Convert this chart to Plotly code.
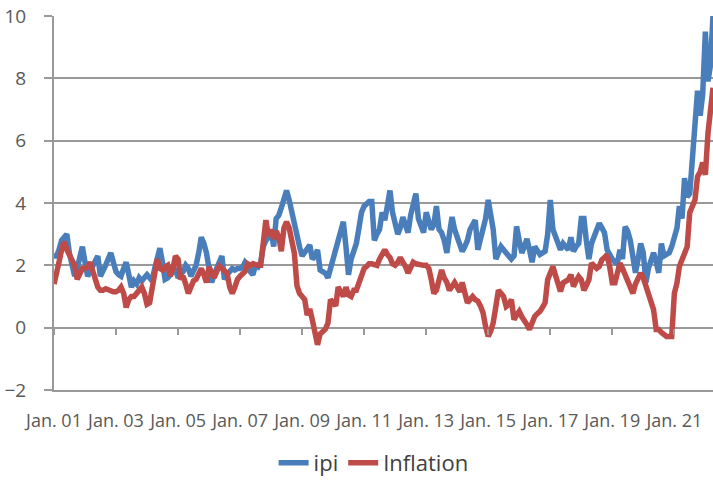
import pandas as pd
import plotly.graph_objects as go

# ---- data (monthly, Jan 2001 - Apr 2022) ----
ipi_2001 = [2.3, 2.3, 2.5, 2.8, 2.9, 3.0, 2.4, 2.0, 1.65, 1.9, 2.3, 2.6]
ipi_2002 = [2.1, 1.65, 1.8, 2.0, 2.2, 2.3, 1.65, 1.8, 2.0, 2.2, 2.4, 2.1]
ipi_2003 = [1.8, 1.7, 1.65, 1.9, 2.1, 1.7, 1.3, 1.5, 1.4, 1.6, 1.5, 1.6]
ipi_2004 = [1.7, 1.6, 1.5, 1.9, 2.3, 2.55, 2.1, 1.55, 1.6, 1.7, 1.75, 1.9]
ipi_2005 = [1.6, 1.7, 1.8, 2.0, 1.9, 1.65, 1.8, 2.0, 2.4, 2.9, 2.7, 2.4]
ipi_2006 = [1.9, 1.45, 1.7, 1.95, 2.1, 2.3, 1.55, 1.7, 1.8, 1.9, 1.85, 1.9]
ipi_2007 = [1.9, 1.95, 2.1, 2.0, 1.8, 1.7, 2.0, 1.95, 2.1, 2.6, 2.8, 2.9]
ipi_2008 = [3.1, 2.6, 3.5, 3.6, 3.85, 4.1, 4.4, 4.1, 3.7, 3.2, 2.9, 2.6]
ipi_2009 = [2.3, 2.4, 2.5, 2.65, 2.2, 2.3, 2.5, 1.85, 1.8, 1.75, 1.6, 1.9]
ipi_2010 = [2.2, 2.4, 2.7, 3.0, 3.4, 2.6, 1.7, 2.2, 2.5, 2.7, 3.2, 3.7]
ipi_2011 = [3.9, 4.0, 4.05, 4.05, 2.8, 3.0, 3.15, 3.7, 3.45, 3.9, 4.4, 3.7]
ipi_2012 = [3.3, 3.0, 3.2, 3.55, 3.3, 3.05, 3.6, 3.9, 4.3, 3.5, 3.2, 3.05]
ipi_2013 = [3.7, 3.4, 3.15, 3.3, 3.9, 3.15, 3.05, 2.8, 2.4, 3.0, 3.55, 3.15]
ipi_2014 = [2.9, 2.7, 2.45, 2.6, 2.8, 3.15, 3.3, 3.45, 2.5, 2.8, 3.15, 3.5]
ipi_2015 = [4.1, 3.6, 3.15, 2.2, 2.4, 2.6, 2.5, 2.4, 2.3, 2.2, 2.3, 3.25]
ipi_2016 = [2.8, 2.4, 2.6, 2.85, 2.5, 2.1, 2.6, 2.5, 2.35, 2.4, 2.45, 3.0]
ipi_2017 = [4.1, 3.15, 2.9, 2.7, 2.5, 2.7, 2.6, 2.5, 2.9, 2.45, 2.6, 2.7]
ipi_2018 = [3.5, 3.5, 2.8, 2.2, 2.7, 2.9, 3.05, 3.35, 3.2, 3.05, 2.5, 2.3]
ipi_2019 = [2.2, 2.1, 2.05, 2.5, 2.2, 3.24, 3.1, 2.8, 2.3, 1.76, 2.2, 2.7]
ipi_2020 = [2.4, 1.45, 1.9, 2.2, 2.4, 2.1, 1.76, 2.7, 2.3, 2.35, 2.4, 2.6]
ipi_2021 = [2.9, 3.2, 3.9, 3.5, 4.8, 4.2, 4.3, 5.5, 7.0, 7.6, 6.8, 7.5]
ipi_2022 = [9.5, 7.9, 8.4, 10.0]

infl_2001 = [1.4, 1.9, 2.1, 2.5, 2.75, 2.5, 2.3, 2.15, 2.0, 1.55, 1.7, 1.9]
infl_2002 = [1.9, 1.95, 2.1, 1.8, 1.5, 1.3, 1.2, 1.2, 1.25, 1.2, 1.2, 1.15]
infl_2003 = [1.15, 1.2, 1.3, 1.1, 0.65, 0.9, 1.0, 1.0, 1.1, 1.2, 1.3, 1.1]
infl_2004 = [0.75, 0.8, 1.2, 1.8, 2.2, 1.9, 1.85, 1.95, 2.0, 1.65, 1.9, 2.3]
infl_2005 = [2.2, 1.55, 1.65, 1.4, 1.1, 1.3, 1.5, 1.55, 1.75, 1.9, 1.7, 1.45]
infl_2006 = [1.95, 1.8, 1.6, 1.8, 1.97, 1.9, 1.85, 1.75, 1.3, 1.1, 1.3, 1.55]
infl_2007 = [1.65, 1.75, 1.8, 2.05, 2.0, 2.05, 2.0, 2.0, 2.0, 2.6, 3.45, 2.95]
infl_2008 = [3.15, 2.85, 3.1, 2.9, 2.45, 3.2, 3.4, 3.2, 2.8, 2.4, 1.35, 1.1]
infl_2009 = [1.0, 0.9, 0.4, 0.6, 0.25, -0.28, -0.55, -0.2, -0.15, -0.05, 0.15, 0.9]
infl_2010 = [0.8, 0.7, 1.3, 1.1, 1.0, 1.3, 1.05, 1.0, 1.2, 1.2, 1.45, 1.65]
infl_2011 = [1.9, 1.97, 2.05, 2.05, 2.0, 2.0, 2.2, 2.35, 2.5, 2.35, 2.25, 2.05]
infl_2012 = [2.0, 2.1, 2.25, 2.1, 1.97, 1.75, 1.9, 2.1, 2.05, 2.02, 2.0, 2.0]
infl_2013 = [2.0, 1.9, 1.55, 1.1, 1.2, 1.65, 1.85, 1.6, 1.45, 1.2, 1.3, 1.45]
infl_2014 = [1.3, 1.15, 1.45, 1.1, 0.8, 0.9, 1.0, 0.9, 0.85, 0.7, 0.48, 0.04]
infl_2015 = [-0.28, -0.1, 0.16, 0.68, 1.2, 1.1, 1.0, 0.68, 0.75, 0.9, 0.26, 0.4]
infl_2016 = [0.52, 0.35, 0.26, 0.1, -0.06, 0.15, 0.36, 0.45, 0.52, 0.65, 0.8, 1.54]
infl_2017 = [1.76, 1.96, 1.7, 1.44, 1.16, 1.44, 1.5, 1.54, 1.7, 1.32, 1.5, 1.64]
infl_2018 = [1.54, 1.2, 1.35, 1.54, 2.07, 1.96, 1.9, 1.96, 2.18, 2.25, 2.34, 1.96]
infl_2019 = [1.44, 1.44, 1.7, 2.07, 1.9, 1.7, 1.5, 1.32, 1.1, 1.4, 1.64, 1.75]
infl_2020 = [1.6, 1.32, 1.1, 0.9, 0.58, -0.06, -0.06, -0.15, -0.22, -0.28, -0.28, -0.28]
infl_2021 = [1.1, 1.44, 1.96, 2.2, 2.4, 2.6, 3.69, 3.9, 4.1, 4.85, 5.0, 5.3]
infl_2022 = [4.9, 6.25, 7.0, 7.7]

ipi = (ipi_2001 + ipi_2002 + ipi_2003 + ipi_2004 + ipi_2005 + ipi_2006 + ipi_2007
       + ipi_2008 + ipi_2009 + ipi_2010 + ipi_2011 + ipi_2012 + ipi_2013 + ipi_2014
       + ipi_2015 + ipi_2016 + ipi_2017 + ipi_2018 + ipi_2019 + ipi_2020 + ipi_2021
       + ipi_2022)
inflation = (infl_2001 + infl_2002 + infl_2003 + infl_2004 + infl_2005 + infl_2006
             + infl_2007 + infl_2008 + infl_2009 + infl_2010 + infl_2011 + infl_2012
             + infl_2013 + infl_2014 + infl_2015 + infl_2016 + infl_2017 + infl_2018
             + infl_2019 + infl_2020 + infl_2021 + infl_2022)

dates = pd.date_range("2001-01-01", periods=len(ipi), freq="MS")

tick_dates = ["2001-01-01", "2003-01-01", "2005-01-01", "2007-01-01", "2009-01-01",
              "2011-01-01", "2013-01-01", "2015-01-01", "2017-01-01", "2019-01-01",
              "2021-01-01"]
tick_labels = ["Jan. 01", "Jan. 03", "Jan. 05", "Jan. 07", "Jan. 09", "Jan. 11",
               "Jan. 13", "Jan. 15", "Jan. 17", "Jan. 19", "Jan. 21"]
y_ticks = [-2, 0, 2, 4, 6, 8, 10]

BLUE = "#4a7ebb"
RED = "#be4b48"
GRID = "#999999"
TXT = "#595959"
FONT = "Open Sans"

fig = go.Figure()
fig.add_trace(go.Scatter(x=dates, y=ipi, mode="lines", name="ipi",
                         line=dict(color=BLUE, width=5.5)))
fig.add_trace(go.Scatter(x=dates, y=inflation, mode="lines", name="Inflation",
                         line=dict(color=RED, width=5.5)))
# carrier for the tick-mark axis that crosses at zero
fig.add_trace(go.Scatter(x=[dates[0]], y=[None], xaxis="x2", mode="lines",
                         showlegend=False, hoverinfo="skip"))

x_range = [str(dates[0].date()), str(dates[-1].date())]

fig.update_layout(
    width=713, height=481,
    margin=dict(l=54, r=0, t=16, b=91, autoexpand=False),
    paper_bgcolor="white", plot_bgcolor="white",
    font=dict(family=FONT, color=TXT),
    showlegend=True,
    legend=dict(orientation="h", x=0.485, xanchor="center", y=-0.195, yanchor="middle",
                font=dict(size=22, color="#404040"), tracegroupgap=0),
    xaxis=dict(type="date", range=x_range, tickvals=tick_dates, ticktext=tick_labels,
               showgrid=False, zeroline=False, showline=True, linecolor=GRID,
               linewidth=2, ticks="", ticklabelstandoff=13,
               tickfont=dict(size=18, color=TXT, family=FONT)),
    xaxis2=dict(type="date", range=x_range, tickvals=tick_dates, overlaying="x",
                anchor="free", position=2 / 12, showticklabels=False, showgrid=False,
                zeroline=False, showline=False, ticks="outside", ticklen=6,
                tickwidth=2, tickcolor=GRID),
    yaxis=dict(range=[-2, 10], tickvals=y_ticks, showgrid=True, gridcolor=GRID,
               gridwidth=2, zeroline=False, showline=True, linecolor=GRID,
               linewidth=2, ticks="outside", ticklen=8, tickwidth=2, tickcolor=GRID,
               ticklabelstandoff=14, tickfont=dict(size=19, color=TXT, family=FONT)),
)

fig.write_html("out.html", config={"displayModeBar": False},
               post_script="document.body.style.margin='0';")
